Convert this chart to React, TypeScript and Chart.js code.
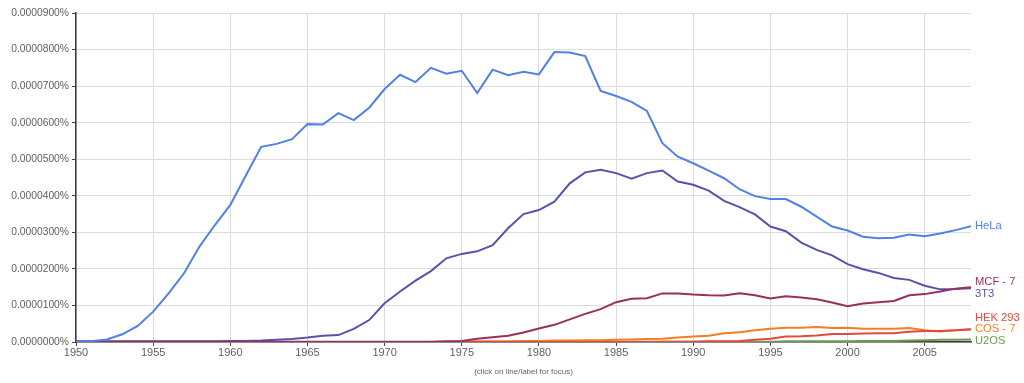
import React, { useEffect, useRef } from "react";
import { Chart, registerables } from "chart.js";

Chart.register(...registerables);

// values in units of 0.0000001 %
const years: number[] = [];
for (let y = 1950; y <= 2008; y++) years.push(y);

const hela = [
  0, 2, 7, 21, 44, 83, 133, 188, 261, 320,
  375, 455, 534, 542, 555, 596, 595, 626, 607, 641,
  692, 731, 711, 750, 734, 742, 681, 745, 730, 739,
  732, 793, 792, 782, 687, 673, 657, 632, 544, 507,
  489, 469, 448, 418, 399, 391, 391, 370, 343, 316,
  305, 288, 284, 285, 294, 289, 297, 306, 317,
];
const t3t3 = [
  2, 2, 2, 2, 2, 2, 2, 2, 2, 2,
  3, 3, 4, 6, 8, 12, 17, 19, 36, 60,
  106, 138, 168, 194, 229, 241, 248, 265, 311, 350,
  361, 384, 434, 464, 471, 462, 447, 462, 469, 439,
  430, 414, 386, 369, 349, 316, 303, 272, 252, 237,
  213, 199, 189, 175, 170, 154, 144, 145, 147,
];
const mcf7 = [
  1, 1, 1, 1, 1, 1, 1, 1, 1, 1,
  1, 1, 1, 1, 1, 1, 1, 1, 1, 1,
  1, 1, 1, 1, 2, 3, 9, 13, 17, 26,
  37, 47, 62, 77, 90, 109, 118, 120, 133, 133,
  130, 128, 127, 133, 128, 119, 125, 122, 117, 108,
  98, 105, 109, 112, 128, 131, 138, 146, 150,
];
const hek293 = [
  0, 0, 0, 0, 0, 0, 0, 0, 0, 0,
  0, 0, 0, 0, 0, 0, 0, 0, 0, 0,
  0, 0, 0, 0, 0, 0, 0, 0, 0, 0,
  0, 0, 0, 0, 0, 0, 0, 0, 1, 1,
  1, 2, 2, 3, 6, 9, 15, 16, 18, 22,
  22, 23, 24, 24, 28, 30, 30, 32, 35,
];
const cos7 = [
  0, 0, 0, 0, 0, 0, 0, 0, 0, 0,
  0, 0, 0, 0, 0, 0, 0, 0, 0, 0,
  0, 0, 0, 0, 1, 2, 2, 2, 2, 3,
  3, 4, 4, 5, 5, 6, 7, 8, 9, 12,
  15, 17, 24, 27, 32, 36, 39, 39, 41, 38,
  39, 36, 36, 36, 38, 32, 29, 32, 34,
];
const u2os = [
  0, 0, 0, 0, 0, 0, 0, 0, 0, 0,
  0, 0, 0, 0, 0, 0, 0, 0, 0, 0,
  0, 0, 0, 0, 0, 0, 0, 0, 0, 0,
  1, 1, 1, 1, 1, 1, 1, 1, 1, 1,
  1, 1, 1, 1, 1, 1, 2, 2, 2, 2,
  2, 3, 3, 3, 4, 5, 6, 6, 7,
];

const seriesNames = ["HeLa", "MCF - 7", "3T3", "HEK 293", "COS - 7", "U2OS"];
const seriesData = [hela, mcf7, t3t3, hek293, cos7, u2os];
const seriesColors = ["#4f81e6", "#9a2f5e", "#5454ab", "#e24a3e", "#f47f22", "#6c9a4e"];

const yTicks = [0, 100, 200, 300, 400, 500, 600, 700, 800, 900];
const xTicks = [1950, 1955, 1960, 1965, 1970, 1975, 1980, 1985, 1990, 1995, 2000, 2005];
const footerText = "(click on line/label for focus)";

const FONT = "'Liberation Sans', Arial, sans-serif";

const labelPlugin = {
  id: "endLabels",
  afterDraw(chart: any) {
    const ctx = chart.ctx;
    const area = chart.chartArea;
    const yScale = chart.scales.y;
    const items = chart.data.datasets.map((ds: any, i: number) => ({
      text: seriesNames[i],
      color: seriesColors[i],
      y: yScale.getPixelForValue(ds.data[ds.data.length - 1].y),
    }));
    items.sort((a: any, b: any) => a.y - b.y);
    const gap = 11.6;
    const maxY = area.bottom - 1;
    for (let it = 0; it < 200; it++) {
      for (let k = 0; k < items.length; k++) {
        if (items[k].y > maxY) items[k].y = maxY;
      }
      for (let k = 0; k < items.length - 1; k++) {
        const d = items[k + 1].y - items[k].y;
        if (d < gap) {
          const s = (gap - d) / 2;
          items[k].y -= s;
          items[k + 1].y += s;
        }
      }
    }
    for (let k = 0; k < items.length; k++) {
      if (items[k].y > maxY) items[k].y = maxY;
    }
    ctx.save();
    ctx.font = `11.2px ${FONT}`;
    ctx.textAlign = "left";
    ctx.textBaseline = "middle";
    items.forEach((it: any) => {
      ctx.fillStyle = it.color;
      ctx.fillText(it.text, area.right + 4, it.y);
    });
    ctx.fillStyle = "#666";
    ctx.font = `8px ${FONT}`;
    ctx.textAlign = "center";
    ctx.fillText(footerText, (area.left + area.right) / 2, 372);
    ctx.restore();
  },
};

export default function App() {
  const ref = useRef<HTMLCanvasElement>(null);
  useEffect(() => {
    if (!ref.current) return;
    const chart = new Chart(ref.current, {
      type: "line",
      data: {
        datasets: seriesData.map((d, i) => ({
          label: seriesNames[i],
          data: d.map((v, j) => ({ x: years[j], y: v })),
          borderColor: seriesColors[i],
          backgroundColor: seriesColors[i],
          borderWidth: 2,
          pointRadius: 0,
          tension: 0,
          fill: false,
        })),
      },
      options: {
        animation: false,
        responsive: false,
        layout: { padding: { left: 0, top: 13, right: 53, bottom: 0 } },
        plugins: { legend: { display: false }, tooltip: { enabled: false } },
        scales: {
          x: {
            type: "linear",
            min: 1950,
            max: 2008,
            afterBuildTicks(scale: any) {
              scale.ticks = xTicks.map((v) => ({ value: v }));
            },
            afterFit(scale: any) {
              scale.height = 41;
            },
            grid: { color: "#dcdcdc", lineWidth: 1, tickColor: "#444", tickLength: 4 },
            border: { color: "#3a3a3a", width: 1.5 },
            ticks: {
              color: "#5f5f5f",
              font: { family: FONT, size: 11 },
              padding: 0,
              maxRotation: 0,
              autoSkip: false,
              callback: (v: any) => String(v),
            },
          },
          y: {
            min: 0,
            max: 900,
            afterBuildTicks(scale: any) {
              scale.ticks = yTicks.map((v) => ({ value: v }));
            },
            afterFit(scale: any) {
              scale.width = 76;
            },
            grid: { color: "#dcdcdc", lineWidth: 1, tickColor: "#444", tickLength: 4 },
            border: { color: "#3a3a3a", width: 1.5 },
            ticks: {
              color: "#5f5f5f",
              font: { family: FONT, size: 10.3 },
              padding: 3,
              callback: (v: any) => (Number(v) / 1e7).toFixed(7) + "%",
            },
          },
        },
      },
      plugins: [labelPlugin],
    });
    return () => chart.destroy();
  }, []);
  return (
    <div style={{ position: "fixed", left: 0, top: 0, width: 1024, height: 383, background: "#fff" }}>
      <canvas ref={ref} width={1024} height={383} />
    </div>
  );
}
